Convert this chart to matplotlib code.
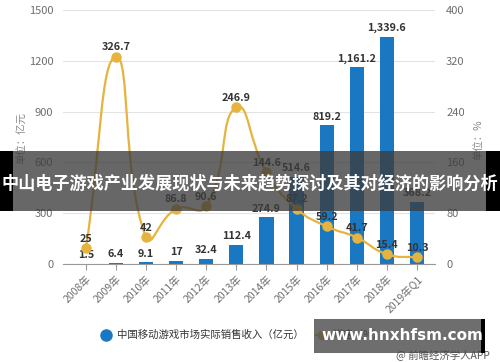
import math
import matplotlib
matplotlib.use("Agg")
import matplotlib.pyplot as plt
from matplotlib.path import Path
from matplotlib.patches import PathPatch, Rectangle
from matplotlib.lines import Line2D

plt.rcParams['font.family'] = ['Noto Sans CJK SC', 'DejaVu Sans']

categories = ["2008年", "2009年", "2010年", "2011年", "2012年", "2013年", "2014年",
              "2015年", "2016年", "2017年", "2018年", "2019年Q1"]
revenue = [1.5, 6.4, 9.1, 17, 32.4, 112.4, 274.9, 514.6, 819.2, 1161.2, 1339.6, 368.2]
growth = [25, 326.7, 42, 86.8, 90.6, 246.9, 144.6, 87.2, 59.2, 41.7, 15.4, 10.3]
left_ticks = [0, 300, 600, 900, 1200, 1500]
right_ticks = [0, 80, 160, 240, 320, 400]

BLUE = "#1a78c2"
GOLD = "#e6b33e"
TXT = "#333333"
TICK = "#6e6e6e"

W, H = 500, 362
fig = plt.figure(figsize=(W / 100, H / 100), dpi=100)
ax = fig.add_axes([63 / W, (H - 264) / H, (435 - 63) / W, (264 - 10) / H])
ax2 = ax.twinx()

x = list(range(len(categories)))
ax.bar(x, revenue, width=0.47, color=BLUE, zorder=2)
ax.set_xlim(-0.76, 11.6)
ax.set_ylim(0, 1500)
ax.set_yticks(left_ticks)
ax.set_yticklabels([str(t) for t in left_ticks])
ax.grid(axis='y', color='#e3e3e3', linewidth=0.8, zorder=0)
ax.set_axisbelow(True)
for s in ['top', 'right', 'left']:
    ax.spines[s].set_visible(False)
ax.spines['bottom'].set_color('#999999')
ax.tick_params(axis='y', length=0, labelsize=8, colors=TICK, pad=7)
ax.set_xticks(x)
ax.set_xticklabels(categories, rotation=45, ha='right', rotation_mode='anchor',
                   fontsize=7.5, color=TICK)
ax.tick_params(axis='x', length=4, color='#999999', pad=3)

for xi, v in zip(x, revenue):
    lab = f"{v:,.1f}" if v != int(v) else f"{int(v)}"
    ax.text(xi, v + 22, lab, ha='center', va='bottom', fontsize=7.8,
            fontweight='bold', color=TXT, zorder=5)

ax2.set_ylim(0, 400)
ax2.set_yticks(right_ticks)
ax2.set_yticklabels([str(t) for t in right_ticks])
for s in ['top', 'right', 'left', 'bottom']:
    ax2.spines[s].set_visible(False)
ax2.tick_params(axis='y', length=0, labelsize=8, colors=TICK, pad=8)

# smooth line: ECharts-style bezier control points, computed in pixel space
sx = (435 - 63) / (11.6 + 0.76)   # px per category
sy = (264 - 10) / 400.0           # px per growth unit
smooth = 0.5
pts = [(xi * sx, g * sy) for xi, g in zip(x, growth)]
n = len(pts)
cps = []
for i in range(n):
    p = pts[i]
    prev = pts[i - 1] if i > 0 else p
    nxt = pts[i + 1] if i < n - 1 else p
    vx, vy = (nxt[0] - prev[0]) * smooth, (nxt[1] - prev[1]) * smooth
    d0 = math.dist(p, prev)
    d1 = math.dist(p, nxt)
    s = d0 + d1
    if s:
        d0 /= s
        d1 /= s
    cin = (p[0] - vx * d0, p[1] - vy * d0)
    cout = (p[0] + vx * d1, p[1] + vy * d1)
    cps.append((cin, cout))

def to_data(pt):
    return (pt[0] / sx, pt[1] / sy)

verts = [to_data(pts[0])]
codes = [Path.MOVETO]
for i in range(n - 1):
    verts += [to_data(cps[i][1]), to_data(cps[i + 1][0]), to_data(pts[i + 1])]
    codes += [Path.CURVE4] * 3
ax2.add_patch(PathPatch(Path(verts, codes), facecolor='none', edgecolor=GOLD,
                        linewidth=1.6, zorder=3))
ax2.plot(x, growth, linestyle='none', marker='o', markersize=6.5, color=GOLD, zorder=4)
for xi, v in zip(x, growth):
    lab = f"{v:g}"
    ax2.text(xi, v + 7, lab, ha='center', va='bottom', fontsize=7.8,
             fontweight='bold', color=TXT, zorder=5)

fig.text(22 / W, 1 - 138 / H, "单位：亿元", rotation=90, ha='center', va='center',
         fontsize=7.5, color='#8a8a8a')
fig.text(478 / W, 1 - 140 / H, "单位：%", rotation=90, ha='center', va='center',
         fontsize=7.5, color='#8a8a8a')

# legend
leg_handles = [
    Line2D([], [], linestyle='none', marker='o', markersize=8, color=BLUE),
    Line2D([], [], linestyle='-', marker='o', markersize=6, color=GOLD, linewidth=1.6),
]
fig.legend(leg_handles, ["中国移动游戏市场实际销售收入（亿元）", "增速（%）"],
           loc='center left', bbox_to_anchor=(100 / W, 1 - 335 / H), ncol=2, frameon=False,
           fontsize=7.5, handlelength=1.2, handletextpad=0.4, columnspacing=1.2,
           labelcolor='#333333', borderaxespad=0, borderpad=0)
fig.text(490 / W, 1 - 355 / H, "@ 前瞻经济学人APP", ha='right', va='center',
         fontsize=7.5, color='#555555')

# overlays
fig.patches.append(Rectangle((0, 1 - 211 / H), 1, 60 / H, transform=fig.transFigure,
                             facecolor='#3c3c3c', alpha=0.78, zorder=10))
fig.patches.append(Rectangle((0, 1 - 211 / H), 13 / W, 60 / H, transform=fig.transFigure,
                             facecolor='black', zorder=11))
fig.patches.append(Rectangle((486 / W, 1 - 211 / H), 14 / W, 60 / H, transform=fig.transFigure,
                             facecolor='black', zorder=11))
fig.text(250 / W, 1 - 183 / H, "中山电子游戏产业发展现状与未来趋势探讨及其对经济的影响分析",
         ha='center', va='center', fontsize=12.3, fontweight='bold', color='white', zorder=12)

fig.patches.append(Rectangle((314 / W, 1 - 353 / H), 167 / W, 34 / H, transform=fig.transFigure,
                             facecolor='#4a4a4a', alpha=0.8, zorder=10))
fig.patches.append(Rectangle((481 / W, 1 - 353 / H), 4 / W, 34 / H, transform=fig.transFigure,
                             facecolor='black', zorder=11))
fig.text(402 / W, 1 - 335 / H, "www.hnxhfsm.com", ha='center', va='center',
         fontsize=11, fontweight='bold', color='white', zorder=12, family='DejaVu Sans')

fig.savefig("out.png", dpi=100)
